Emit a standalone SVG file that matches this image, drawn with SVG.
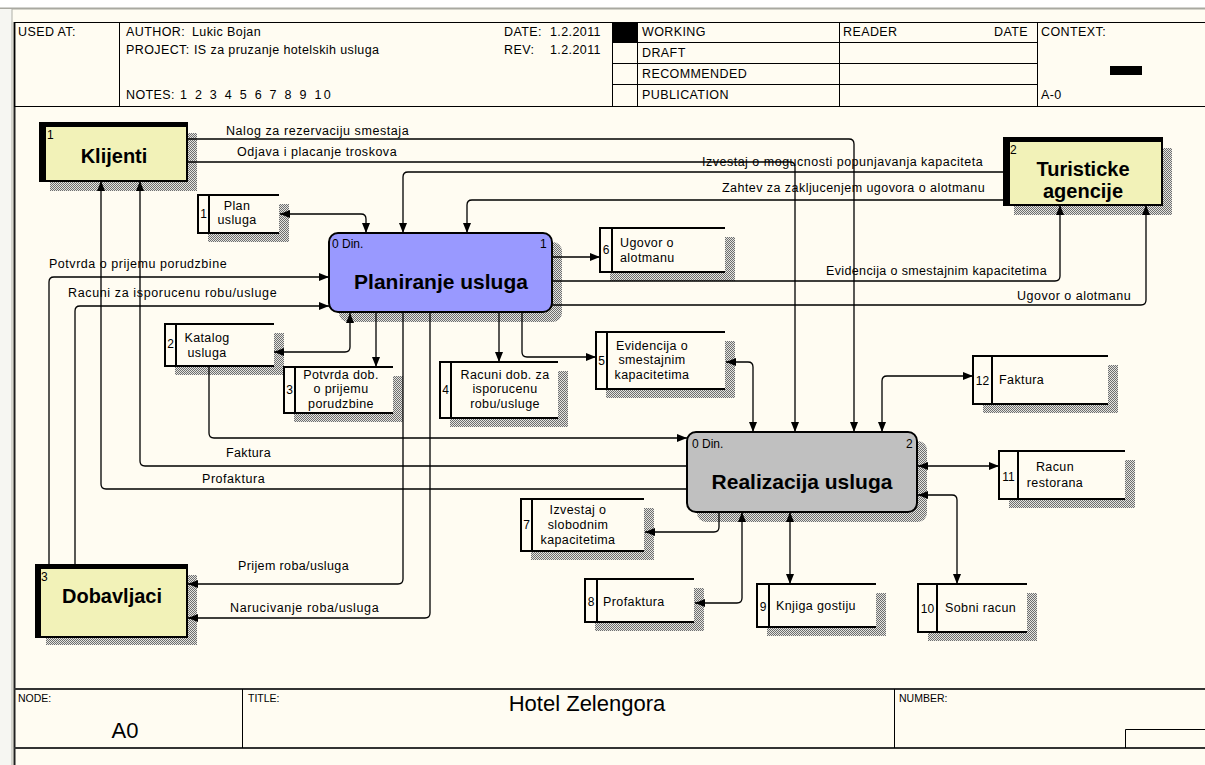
<svg xmlns="http://www.w3.org/2000/svg" width="1205" height="765" viewBox="0 0 1205 765">
<defs>
<style>
.t{font-family:"Liberation Sans",Arial,sans-serif;font-size:12.5px;letter-spacing:0.4px;fill:#000}
.tm{text-anchor:middle}
.n{font-family:"Liberation Sans",Arial,sans-serif;font-size:12px;fill:#000}
.fs{font-family:"Liberation Sans",Arial,sans-serif;font-size:10.5px;fill:#000}
.fb{font-family:"Liberation Sans",Arial,sans-serif;font-size:22px;text-anchor:middle;fill:#000}
.ent{font-family:"Liberation Sans",Arial,sans-serif;font-size:20px;font-weight:bold;text-anchor:middle;fill:#000}
.act{font-family:"Liberation Sans",Arial,sans-serif;font-size:21px;font-weight:bold;text-anchor:middle;fill:#000}
.fr{fill:none;stroke:#000;stroke-width:1}
.sl{fill:none;stroke:#000;stroke-width:2}
.sf{fill:#FFFCF2}
.sh{fill:url(#hatch)}
.ef{fill:#F2F2B8;stroke:#000;stroke-width:2}
.c{fill:none;stroke:#000;stroke-width:1.3;marker-end:url(#ah)}
.b{marker-start:url(#ah)}
</style>
<pattern id="hatch" width="2" height="2" patternUnits="userSpaceOnUse"><rect width="2" height="2" fill="#e4e4e0"/><rect width="1" height="1" fill="#6e6e6e"/><rect x="1" y="1" width="1" height="1" fill="#6e6e6e"/></pattern>
<marker id="ah" viewBox="0 0 10 8" refX="10" refY="4" markerWidth="10" markerHeight="8" markerUnits="userSpaceOnUse" orient="auto-start-reverse"><path d="M0,0L10,4L0,8z" fill="#000"/></marker>
</defs>

<g id="background">
<rect width="1205" height="765" fill="#FFFCF2"/>
<rect width="1205" height="8" fill="#FFFFFF"/>
<line x1="0" y1="8.5" x2="1205" y2="8.5" stroke="#A8A8A0" stroke-width="2"/>
<rect x="0" y="9" width="12" height="756" fill="#F6F6F2"/>
<line x1="12" y1="9" x2="12" y2="765" stroke="#B0B0A8" stroke-width="1"/>
<line x1="14.5" y1="22" x2="14.5" y2="765" stroke="#202020" stroke-width="2"/>
</g>

<g id="header">
<rect x="14.5" y="22.5" width="1200" height="84" class="fr"/>
<line x1="119.5" y1="22" x2="119.5" y2="106" class="fr"/>
<line x1="612.5" y1="22" x2="612.5" y2="106" class="fr"/>
<line x1="637.5" y1="22" x2="637.5" y2="106" class="fr"/>
<line x1="839.5" y1="22" x2="839.5" y2="106" class="fr"/>
<line x1="1037.5" y1="22" x2="1037.5" y2="106" class="fr"/>
<line x1="612" y1="42.5" x2="1037" y2="42.5" class="fr"/>
<line x1="612" y1="63.5" x2="1037" y2="63.5" class="fr"/>
<line x1="612" y1="84.5" x2="1037" y2="84.5" class="fr"/>
<rect x="612" y="22" width="25" height="20" fill="#000"/>
<rect x="1110" y="66" width="32" height="9" fill="#000"/>
<text x="18" y="36" class="t">USED AT:</text>
<text x="126" y="36" class="t">AUTHOR:</text>
<text x="192" y="36" class="t">Lukic Bojan</text>
<text x="126" y="54" class="t">PROJECT:</text>
<text x="194" y="54" class="t">IS za pruzanje hotelskih usluga</text>
<text x="126" y="99" class="t">NOTES:</text>
<text x="180" y="99" class="t" textLength="151">1 2 3 4 5 6 7 8 9 10</text>
<text x="504" y="36" class="t">DATE:</text>
<text x="550" y="36" class="t">1.2.2011</text>
<text x="504" y="54" class="t">REV:</text>
<text x="550" y="54" class="t">1.2.2011</text>
<text x="642" y="36" class="t">WORKING</text>
<text x="642" y="57" class="t">DRAFT</text>
<text x="642" y="78" class="t">RECOMMENDED</text>
<text x="642" y="99" class="t">PUBLICATION</text>
<text x="843" y="36" class="t">READER</text>
<text x="1028" y="36" class="t" text-anchor="end">DATE</text>
<text x="1041" y="36" class="t">CONTEXT:</text>
<text x="1041" y="99" class="t">A-0</text>
</g>

<g id="footer">
<line x1="14" y1="689" x2="1205" y2="689" stroke="#333" stroke-width="2"/>
<line x1="14" y1="748" x2="1205" y2="748" stroke="#333" stroke-width="2"/>
<line x1="242.5" y1="689" x2="242.5" y2="748" class="fr"/>
<line x1="894.5" y1="689" x2="894.5" y2="748" class="fr"/>
<path d="M1205,729.5H1125.5V748" class="fr"/>
<text x="18" y="702" class="fs">NODE:</text>
<text x="248" y="702" class="fs">TITLE:</text>
<text x="899" y="702" class="fs">NUMBER:</text>
<text x="125" y="738" class="fb">A0</text>
<text x="587" y="711" class="fb">Hotel Zelengora</text>
</g>

<g id="ent-klijenti">
<rect x="50" y="133" width="147" height="58" class="sh"/>
<rect x="40" y="123" width="147" height="58" class="ef"/>
<rect x="39" y="122" width="7" height="60" fill="#000"/>
<rect x="39" y="122" width="149" height="5" fill="#000"/>
<text x="47" y="139" class="n">1</text>
<text x="114" y="163" class="ent">Klijenti</text>
</g>

<g id="ent-turisticke">
<rect x="1014" y="148" width="158" height="67" class="sh"/>
<rect x="1004" y="138" width="158" height="67" class="ef"/>
<rect x="1003" y="137" width="7" height="69" fill="#000"/>
<rect x="1003" y="137" width="160" height="5" fill="#000"/>
<text x="1010" y="154" class="n">2</text>
<text x="1083" y="176" class="ent">Turisticke</text>
<text x="1083" y="198" class="ent">agencije</text>
</g>

<g id="ent-dobavljaci">
<rect x="46" y="575" width="151" height="70" class="sh"/>
<rect x="36" y="565" width="151" height="72" class="ef"/>
<rect x="35" y="564" width="6" height="74" fill="#000"/>
<rect x="35" y="564" width="153" height="5" fill="#000"/>
<text x="41" y="581" class="n">3</text>
<text x="112" y="603" class="ent">Dobavljaci</text>
</g>

<g id="act-planiranje">
<rect x="339" y="242" width="223" height="80" rx="9" class="sh"/>
<rect x="329" y="233" width="223" height="79" rx="9" fill="#9999FF" stroke="#000" stroke-width="2"/>
<text x="332" y="248" class="n">0 Din.</text>
<text x="540" y="248" class="n">1</text>
<text x="441" y="289" class="act">Planiranje usluga</text>
</g>

<g id="act-realizacija">
<rect x="697" y="441" width="230" height="81" rx="9" class="sh"/>
<rect x="687" y="432" width="230" height="80" rx="9" fill="#C0C0C0" stroke="#000" stroke-width="2"/>
<text x="692" y="448" class="n">0 Din.</text>
<text x="906" y="448" class="n">2</text>
<text x="802" y="489" class="act">Realizacija usluga</text>
</g>

<g id="store-1">
<rect x="208" y="204" width="81" height="38" class="sh"/>
<rect x="198" y="195" width="81" height="38" class="sf"/>
<path d="M279,195H198V233H279M209,195V233" class="sl"/>
<text x="203.5" y="218" class="n" text-anchor="middle">1</text>
<text x="237" y="210" class="t tm">Plan</text>
<text x="237" y="224" class="t tm">usluga</text>
</g>

<g id="store-2">
<rect x="175" y="333" width="109" height="42" class="sh"/>
<rect x="165" y="324" width="109" height="42" class="sf"/>
<path d="M274,324H165V366H274M176,324V366" class="sl"/>
<text x="170.5" y="348" class="n" text-anchor="middle">2</text>
<text x="207" y="342" class="t tm">Katalog</text>
<text x="207" y="357" class="t tm">usluga</text>
</g>

<g id="store-3">
<rect x="294" y="376" width="109" height="46" class="sh"/>
<rect x="284" y="367" width="109" height="46" class="sf"/>
<path d="M393,367H284V413H393M295,367V413" class="sl"/>
<text x="289.5" y="394" class="n" text-anchor="middle">3</text>
<text x="341" y="379" class="t tm">Potvrda dob.</text>
<text x="341" y="393" class="t tm">o prijemu</text>
<text x="341" y="408" class="t tm">porudzbine</text>
</g>

<g id="store-4">
<rect x="450" y="371" width="118" height="56" class="sh"/>
<rect x="440" y="362" width="118" height="56" class="sf"/>
<path d="M558,362H440V418H558M451,362V418" class="sl"/>
<text x="445.5" y="394" class="n" text-anchor="middle">4</text>
<text x="505" y="379" class="t tm">Racuni dob. za</text>
<text x="505" y="393" class="t tm">isporucenu</text>
<text x="505" y="408" class="t tm">robu/usluge</text>
</g>

<g id="store-5">
<rect x="606" y="341" width="129" height="57" class="sh"/>
<rect x="596" y="332" width="129" height="57" class="sf"/>
<path d="M725,332H596V389H725M607,332V389" class="sl"/>
<text x="601.5" y="365" class="n" text-anchor="middle">5</text>
<text x="652" y="350" class="t tm">Evidencija o</text>
<text x="652" y="364" class="t tm">smestajnim</text>
<text x="652" y="379" class="t tm">kapacitetima</text>
</g>

<g id="store-6">
<rect x="610" y="237" width="125" height="44" class="sh"/>
<rect x="600" y="228" width="125" height="44" class="sf"/>
<path d="M725,228H600V272H725M612,228V272" class="sl"/>
<text x="606" y="254" class="n" text-anchor="middle">6</text>
<text x="620" y="247" class="t">Ugovor o</text>
<text x="620" y="262" class="t">alotmanu</text>
</g>

<g id="store-7">
<rect x="531" y="508" width="123" height="52" class="sh"/>
<rect x="521" y="499" width="123" height="52" class="sf"/>
<path d="M644,499H521V551H644M532,499V551" class="sl"/>
<text x="526.5" y="529" class="n" text-anchor="middle">7</text>
<text x="578" y="514" class="t tm">Izvestaj o</text>
<text x="578" y="529" class="t tm">slobodnim</text>
<text x="578" y="544" class="t tm">kapacitetima</text>
</g>

<g id="store-8">
<rect x="595" y="588" width="109" height="43" class="sh"/>
<rect x="585" y="579" width="109" height="43" class="sf"/>
<path d="M694,579H585V622H694M597,579V622" class="sl"/>
<text x="591" y="606" class="n" text-anchor="middle">8</text>
<text x="603" y="606" class="t">Profaktura</text>
</g>

<g id="store-9">
<rect x="767" y="593" width="119" height="43" class="sh"/>
<rect x="757" y="584" width="119" height="43" class="sf"/>
<path d="M876,584H757V627H876M769,584V627" class="sl"/>
<text x="763" y="611" class="n" text-anchor="middle">9</text>
<text x="776" y="610" class="t">Knjiga gostiju</text>
</g>

<g id="store-10">
<rect x="928" y="593" width="109" height="48" class="sh"/>
<rect x="918" y="584" width="109" height="48" class="sf"/>
<path d="M1027,584H918V632H1027M937,584V632" class="sl"/>
<text x="927.5" y="613" class="n" text-anchor="middle">10</text>
<text x="945" y="612" class="t">Sobni racun</text>
</g>

<g id="store-11">
<rect x="1009" y="460" width="126" height="48" class="sh"/>
<rect x="999" y="451" width="126" height="48" class="sf"/>
<path d="M1125,451H999V499H1125M1018,451V499" class="sl"/>
<text x="1008.5" y="481" class="n" text-anchor="middle">11</text>
<text x="1055" y="471" class="t tm">Racun</text>
<text x="1055" y="487" class="t tm">restorana</text>
</g>

<g id="store-12">
<rect x="983" y="365" width="135" height="48" class="sh"/>
<rect x="973" y="356" width="135" height="48" class="sf"/>
<path d="M1108,356H973V404H1108M992,356V404" class="sl"/>
<text x="982.5" y="385" class="n" text-anchor="middle">12</text>
<text x="999" y="384" class="t">Faktura</text>
</g>

<g id="connectors">
<path class="c" d="M187,139H849Q854,139 854,144V432"/>
<path class="c" d="M187,162H790Q795,162 795,167V432"/>
<path class="c" d="M1004,172H408Q403,172 403,177V233"/>
<path class="c" d="M1004,200H472Q467,200 467,205V233"/>
<path class="c b" d="M280,214H361Q366,214 366,219V233"/>
<path class="c" d="M49,565V282Q49,277 54,277H329"/>
<path class="c" d="M75,565V311Q75,306 80,306H329"/>
<path class="c" d="M687,466H145Q140,466 140,461V181"/>
<path class="c" d="M687,489H106Q101,489 101,484V181"/>
<path class="c b" d="M274,352H345Q350,352 350,347V313"/>
<path class="c" d="M209,366V433Q209,438 214,438H687"/>
<path class="c" d="M376,313V367"/>
<path class="c" d="M499,313V362"/>
<path class="c" d="M522,313V352Q522,357 527,357H596"/>
<path class="c" d="M403,313V579Q403,584 398,584H188"/>
<path class="c" d="M430,313V613Q430,618 425,618H188"/>
<path class="c" d="M552,257H600"/>
<path class="c" d="M552,281H1055Q1060,281 1060,276V205"/>
<path class="c" d="M552,305H1141Q1146,305 1146,300V205"/>
<path class="c b" d="M726,362H748Q753,362 753,367V432"/>
<path class="c b" d="M882,432V381Q882,376 887,376H973"/>
<path class="c b" d="M918,466H999"/>
<path class="c b" d="M918,495H952Q957,495 957,500V584"/>
<path class="c" d="M719,512V527Q719,532 714,532H645"/>
<path class="c b" d="M742,512V598Q742,603 737,603H695"/>
<path class="c b" d="M790,512V584"/>
<text x="226" y="135" class="t" textLength="183">Nalog za rezervaciju smestaja</text>
<text x="237" y="156" class="t" textLength="160">Odjava i placanje troskova</text>
<text x="702" y="166" class="t" textLength="281">Izvestaj o mogucnosti popunjavanja kapaciteta</text>
<text x="722" y="192" class="t" textLength="263">Zahtev za zakljucenjem ugovora o alotmanu</text>
<text x="49" y="268" class="t" textLength="178">Potvrda o prijemu porudzbine</text>
<text x="68" y="297" class="t" textLength="209">Racuni za isporucenu robu/usluge</text>
<text x="826" y="275" class="t" textLength="221">Evidencija o smestajnim kapacitetima</text>
<text x="1017" y="300" class="t" textLength="114">Ugovor o alotmanu</text>
<text x="226" y="457" class="t" textLength="45">Faktura</text>
<text x="202" y="483" class="t" textLength="63">Profaktura</text>
<text x="238" y="570" class="t" textLength="111">Prijem roba/usluga</text>
<text x="230" y="612" class="t" textLength="149">Narucivanje roba/usluga</text>
</g>
</svg>
